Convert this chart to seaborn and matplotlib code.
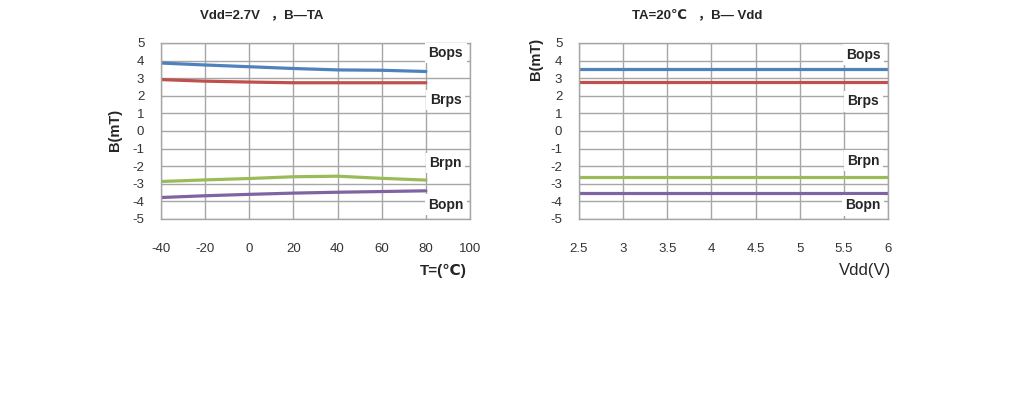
import matplotlib.pyplot as plt
import seaborn as sns
import pandas as pd
from matplotlib.ticker import FuncFormatter

# ---------------------------------------------------------------------------
# data
# ---------------------------------------------------------------------------
temp = [-40, -20, 0, 20, 40, 60, 80]
bops_t = [3.86, 3.75, 3.65, 3.55, 3.47, 3.45, 3.38]
brps_t = [2.92, 2.83, 2.78, 2.74, 2.74, 2.74, 2.74]
brpn_t = [-2.87, -2.78, -2.70, -2.60, -2.57, -2.69, -2.79]
bopn_t = [-3.78, -3.68, -3.60, -3.53, -3.48, -3.44, -3.40]

vdd = [2.5, 3.0, 3.5, 4.0, 4.5, 5.0, 5.5, 6.0]
bops_v = [3.5] * 8
brps_v = [2.8] * 8
brpn_v = [-2.6] * 8
bopn_v = [-3.5] * 8

names = ["Bops", "Brps", "Brpn", "Bopn"]
colors = ["#4f81bd", "#c0504d", "#9bbb59", "#8064a2"]

left_title = "Vdd=2.7V   ，B—TA"
right_title = "TA=20℃   ，B— Vdd"

sns.set_style("white")
fonts = ['Liberation Sans', 'DejaVu Sans', 'Noto Sans CJK SC']
plt.rcParams['font.family'] = fonts
plt.rcParams['axes.unicode_minus'] = False

fig = plt.figure(figsize=(10.2, 3.95), dpi=100)
ax1 = fig.add_axes([0.1578, 0.4456, 0.303, 0.4456])
ax2 = fig.add_axes([0.5676, 0.4456, 0.303, 0.4456])

df_t = pd.DataFrame({"T": temp, "Bops": bops_t, "Brps": brps_t,
                     "Brpn": brpn_t, "Bopn": bopn_t})
df_v = pd.DataFrame({"V": vdd, "Bops": bops_v, "Brps": brps_v,
                     "Brpn": brpn_v, "Bopn": bopn_v})

for n, c in zip(names, colors):
    sns.lineplot(data=df_t, x="T", y=n, color=c, lw=2.3, ax=ax1)
    sns.lineplot(data=df_v, x="V", y=n, color=c, lw=2.3, ax=ax2)

#-----------------------------------------------------------------------------#
ax1.set_xlim(-40, 100)
ax1.set_xticks(range(-40, 101, 20))
ax2.set_xlim(2.5, 6)
ax2.set_xticks([2.5, 3, 3.5, 4, 4.5, 5, 5.5, 6])
ax2.xaxis.set_major_formatter(FuncFormatter(lambda v, p: "{:g}".format(v)))

for ax in (ax1, ax2):
    ax.set_ylim(-5, 5)
    ax.set_yticks(range(-5, 6))
    ax.grid(True, color="#a6a6a6", lw=1)
    ax.set_axisbelow(True)
    for s in ax.spines.values():
        s.set_color("#a6a6a6")
        s.set_linewidth(1)
    ax.tick_params(axis="x", pad=17, labelsize=9.5, colors="#333333", length=0)
    ax.tick_params(axis="y", pad=12, labelsize=9.5, colors="#333333", length=0)
    ax.set_xlabel("")
    ax.set_ylabel("")

# curve labels with white boxes
lab_kw = dict(fontsize=10, fontweight="bold", ha="center", va="center",
              zorder=5, bbox=dict(facecolor="white", edgecolor="none", pad=2.5))
for n, y in zip(names, [4.43, 1.76, -1.82, -4.2]):
    ax1.text(89.0, y, n, **lab_kw)
for n, y in zip(names, [4.32, 1.7, -1.7, -4.22]):
    ax2.text(5.72, y, n, **lab_kw)

# axis titles
fig.text(0.113, 0.67, "B(mT)", rotation=90, fontsize=10.5, fontweight="bold",
         ha="center", va="center")
fig.text(0.525, 0.85, "B(mT)", rotation=90, fontsize=10.5, fontweight="bold",
         ha="center", va="center")
fig.text(0.435, 0.315, "T=(℃)", fontsize=11, fontweight="bold",
         ha="center", va="center")
fig.text(0.848, 0.315, "Vdd(V)", fontsize=12, ha="center", va="center")

fig.text(0.196, 0.962, left_title, fontsize=9.5, fontweight="bold",
         ha="left", va="center")
fig.text(0.62, 0.962, right_title, fontsize=9.5, fontweight="bold",
         ha="left", va="center")

plt.savefig("out.png", dpi=100)
